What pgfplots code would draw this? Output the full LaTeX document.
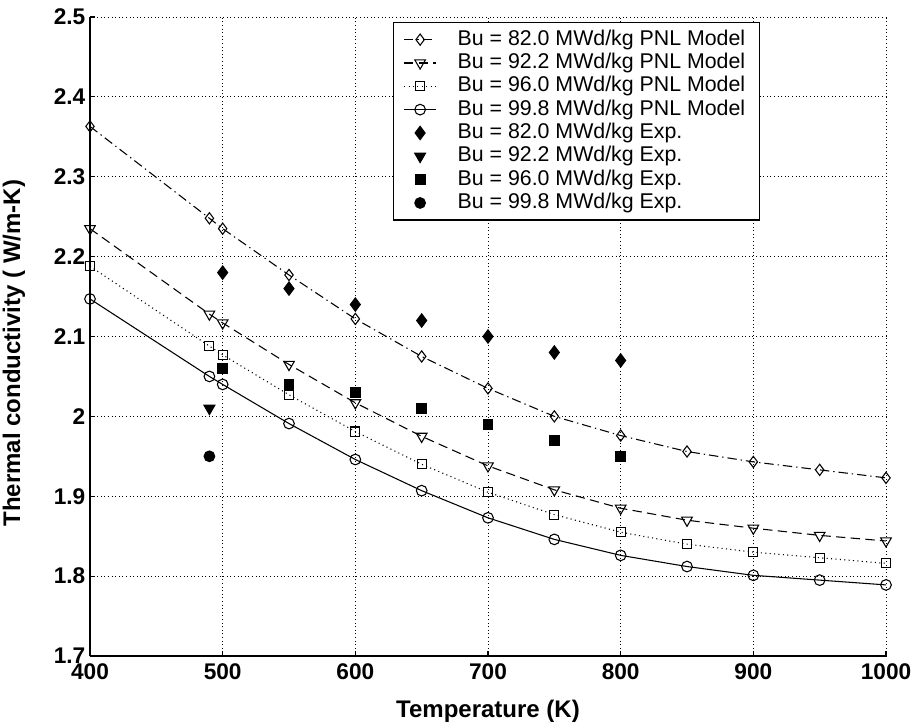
\documentclass[border=0pt]{standalone}
\usepackage{fontspec}
\setmainfont{Liberation Sans}
\usepackage{pgfplots}
\pgfplotsset{compat=1.18}
\pgfplotsset{mylegend/.style={legend image code/.code={\path (0pt,0pt) (36.25pt,0pt); \draw[mark repeat=2,mark phase=2,##1] plot coordinates {(2pt,0pt)(14pt,0pt)(26pt,0pt)};}}}
\begin{document}
\begin{tikzpicture}
\begin{axis}[
  scale only axis,
  width=597pt, height=479.25pt,
  xmin=400, xmax=1000, ymin=1.7, ymax=2.5,
  xtick={400,500,...,1000},
  ytick={1.7,1.8,...,2.5},
  axis x line*=bottom, axis y line*=left,
  axis line style={black, line width=1.2pt, -},
  tick align=inside, major tick length=4pt,
  tick style={black, line width=0.8pt},
  /pgf/number format/assume math mode=true,
  /pgf/number format/fixed,
  /pgf/number format/1000 sep={},
  tick label style={font=\bfseries\fontsize{17}{17}\selectfont},
  xticklabel style={yshift=-2pt},
  xlabel={\bfseries Temperature (K)},
  ylabel={\bfseries Thermal conductivity ( W/m-K)},
  label style={font=\bfseries\fontsize{18}{18}\selectfont},
  xlabel style={at={(axis description cs:0.5,-0.086)}, anchor=center},
  ylabel style={at={(axis description cs:-0.0955,0.474)}, anchor=center},
  grid=major,
  major grid style={black, line width=0.6pt, dash pattern=on 0.7pt off 2pt},
  legend cell align=left,
  legend style={at={(0.3807,0.992)}, anchor=north west, draw=black, line width=0.8pt,
    fill=white, font=\fontsize{16}{17.5}\selectfont, inner xsep=5.5pt, inner ysep=4pt,
    row sep=0pt, column sep=0pt,
    nodes={inner xsep=5.5pt, inner ysep=1pt, text height=12pt, text depth=3.5pt}},
  every axis plot/.append style={black, line width=0.8pt},
]
% Models
\addplot[dash pattern=on 7pt off 3pt on 1pt off 3pt, mark=diamond, mark size=4.2pt, mark options={solid}, mylegend]
 coordinates {(400,2.363)(490,2.248)(500,2.235)(550,2.177)(600,2.122)(650,2.075)(700,2.035)(750,2.000)(800,1.976)(850,1.956)(900,1.943)(950,1.933)(1000,1.923)};
\addlegendentry{Bu = 82.0 MWd/kg PNL Model}
\addplot[dash pattern=on 7pt off 4pt, mark=triangle, mark size=4.6pt, mark options={solid, rotate=180}, mylegend]
 coordinates {(400,2.235)(490,2.128)(500,2.117)(550,2.065)(600,2.017)(650,1.975)(700,1.938)(750,1.908)(800,1.885)(850,1.870)(900,1.860)(950,1.851)(1000,1.844)};
\addlegendentry{Bu = 92.2 MWd/kg PNL Model}
\addplot[dash pattern=on 0.8pt off 2.5pt, mark=square, mark size=3.4pt, mark options={solid}, mylegend]
 coordinates {(400,2.188)(490,2.088)(500,2.077)(550,2.027)(600,1.981)(650,1.940)(700,1.905)(750,1.877)(800,1.855)(850,1.840)(900,1.830)(950,1.823)(1000,1.816)};
\addlegendentry{Bu = 96.0 MWd/kg PNL Model}
\addplot[solid, mark=o, mark size=4pt, mylegend]
 coordinates {(400,2.147)(490,2.050)(500,2.040)(550,1.991)(600,1.946)(650,1.907)(700,1.873)(750,1.846)(800,1.826)(850,1.812)(900,1.801)(950,1.795)(1000,1.789)};
\addlegendentry{Bu = 99.8 MWd/kg PNL Model}
% Experiments
\addplot[only marks, mark=diamond*, mark size=5pt, mylegend]
 coordinates {(500,2.18)(550,2.16)(600,2.14)(650,2.12)(700,2.10)(750,2.08)(800,2.07)};
\addlegendentry{Bu = 82.0 MWd/kg Exp.}
\addplot[only marks, mark=triangle*, mark size=4.7pt, mark options={rotate=180}, mylegend]
 coordinates {(490,2.01)};
\addlegendentry{Bu = 92.2 MWd/kg Exp.}
\addplot[only marks, mark=square*, mark size=3.7pt, mylegend]
 coordinates {(500,2.06)(550,2.04)(600,2.03)(650,2.01)(700,1.99)(750,1.97)(800,1.95)};
\addlegendentry{Bu = 96.0 MWd/kg Exp.}
\addplot[only marks, mark=*, mark size=4pt, mylegend]
 coordinates {(490,1.95)};
\addlegendentry{Bu = 99.8 MWd/kg Exp.}
\end{axis}
\pgfresetboundingbox
\path ([xshift=-67.5pt,yshift=-53.25pt]current axis.south west) rectangle ([xshift=24.75pt,yshift=12.75pt]current axis.north east);
\end{tikzpicture}
\end{document}
